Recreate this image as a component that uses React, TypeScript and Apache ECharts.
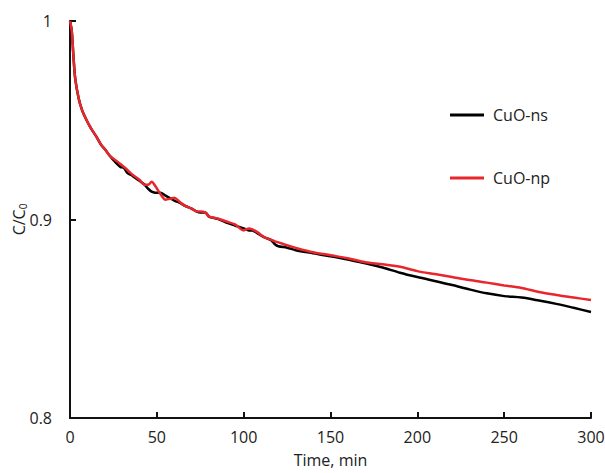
import React, { useEffect, useRef } from "react";
import * as echarts from "echarts";

const timeMin = [0, 1, 2, 3, 5, 7, 9, 12, 15, 18, 20, 23, 26, 29, 31, 33, 36, 40, 43, 45, 47, 49, 52, 55, 58, 60, 63, 66, 70, 73, 75, 78, 80, 85, 90, 95, 100, 103, 105, 108, 112, 116, 118, 120, 125, 130, 140, 150, 160, 170, 180, 190, 200, 210, 220, 230, 240, 250, 260, 270, 280, 290, 300];

const cuoNs = [1.0, 0.995, 0.982, 0.971, 0.961, 0.955, 0.951, 0.946, 0.942, 0.9375, 0.9355, 0.932, 0.929, 0.9265, 0.926, 0.9235, 0.922, 0.9195, 0.9175, 0.9155, 0.914, 0.9135, 0.9135, 0.912, 0.9105, 0.9095, 0.9085, 0.907, 0.9055, 0.904, 0.9035, 0.9035, 0.9015, 0.9003, 0.8985, 0.897, 0.8955, 0.8945, 0.8945, 0.893, 0.891, 0.8895, 0.8875, 0.8865, 0.8858, 0.8845, 0.883, 0.8815, 0.8798, 0.878, 0.8758, 0.8732, 0.871, 0.869, 0.867, 0.8648, 0.8628, 0.8614, 0.8607, 0.8592, 0.8575, 0.8555, 0.8534];

const cuoNp = [1.0, 0.995, 0.982, 0.971, 0.961, 0.955, 0.951, 0.946, 0.942, 0.9375, 0.9355, 0.932, 0.93, 0.928, 0.9265, 0.925, 0.9225, 0.92, 0.9175, 0.9175, 0.919, 0.917, 0.913, 0.91, 0.9105, 0.911, 0.909, 0.907, 0.9055, 0.904, 0.904, 0.9035, 0.9015, 0.9005, 0.899, 0.8975, 0.8945, 0.8955, 0.895, 0.8935, 0.891, 0.8897, 0.889, 0.8885, 0.887, 0.8857, 0.8835, 0.882, 0.8805, 0.8785, 0.8775, 0.8762, 0.874, 0.8725, 0.871, 0.8695, 0.8682, 0.8668, 0.8655, 0.8635, 0.862, 0.8607, 0.8594];

const seriesNames = ["CuO-ns", "CuO-np"];
const xTicks = [0, 50, 100, 150, 200, 250, 300];
const yTicks = [0.8, 0.9, 1];

const FONT = "'Open Sans', 'Noto Sans', sans-serif";

export default function App() {
  const ref = useRef<HTMLDivElement>(null);
  useEffect(() => {
    if (!ref.current) return;
    const chart = echarts.init(ref.current, undefined, { renderer: "svg" });
    const pair = (vals: number[]) => timeMin.map((t, i) => [t, vals[i]]);
    chart.setOption({
      animation: false,
      backgroundColor: "#ffffff",
      textStyle: { fontFamily: FONT },
      grid: { left: 70, right: 14, top: 21, bottom: 55, containLabel: false, outerBoundsMode: "none" },
      legend: {
        data: seriesNames,
        orient: "vertical",
        left: 445,
        top: 102,
        icon: "rect",
        itemWidth: 34,
        itemHeight: 3,
        itemGap: 47,
        textStyle: { fontFamily: FONT, fontSize: 16, color: "#222", padding: [0, 0, 4, 4] },
      },
      xAxis: {
        type: "value",
        min: 0,
        max: 300,
        interval: 50,
        name: "Time, min",
        nameLocation: "middle",
        nameGap: 34,
        nameMoveOverlap: false,
        nameTextStyle: { fontFamily: FONT, fontSize: 16, color: "#222" },
        axisLine: { show: true, lineStyle: { color: "#111", width: 2 } },
        axisTick: { show: true, inside: true, length: 6, lineStyle: { color: "#111", width: 2 } },
        axisLabel: {
          fontFamily: FONT,
          fontSize: 16,
          color: "#222",
          margin: 11,
          formatter: (v: number) => (xTicks.includes(v) ? String(v) : ""),
        },
        splitLine: { show: false },
      },
      yAxis: {
        type: "value",
        min: 0.8,
        max: 1,
        interval: 0.1,
        name: "C/C{sub|0}",
        nameLocation: "middle",
        nameRotate: 90,
        nameGap: 42,
        nameMoveOverlap: false,
        nameTextStyle: {
          fontFamily: FONT,
          fontSize: 16,
          color: "#222",
          rich: {
            sub: { fontFamily: FONT, fontSize: 10, color: "#222", verticalAlign: "bottom", padding: [8, 0, 0, 0] },
          },
        },
        axisLine: { show: true, lineStyle: { color: "#111", width: 2 } },
        axisTick: { show: true, inside: true, length: 6, lineStyle: { color: "#111", width: 2 } },
        axisLabel: {
          fontFamily: FONT,
          fontSize: 16,
          color: "#222",
          margin: 18,
          formatter: (v: number) => {
            const r = Math.round(v * 10) / 10;
            return yTicks.includes(r) ? String(r) : "";
          },
        },
        splitLine: { show: false },
      },
      series: [
        {
          name: seriesNames[0],
          type: "line",
          data: pair(cuoNs),
          showSymbol: false,
          smooth: 0.3,
          color: "#000000",
          lineStyle: { color: "#000000", width: 2.5 },
          z: 2,
        },
        {
          name: seriesNames[1],
          type: "line",
          data: pair(cuoNp),
          showSymbol: false,
          smooth: 0.3,
          color: "#e8262b",
          lineStyle: { color: "#e8262b", width: 2.5 },
          z: 3,
        },
      ],
    });
    return () => chart.dispose();
  }, []);
  return (
    <div
      ref={ref}
      style={{ position: "fixed", left: 0, top: 0, width: 605, height: 473, background: "#fff" }}
    />
  );
}
